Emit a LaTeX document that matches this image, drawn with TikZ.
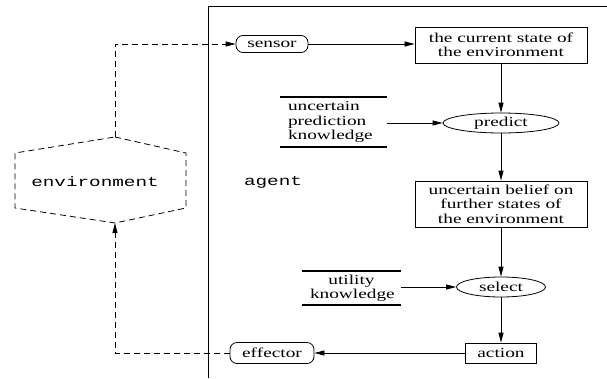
\documentclass[tikz,border=0pt]{standalone}
\usepackage{fontspec}
\setmainfont[FakeStretch=1.42]{Liberation Serif}
\setmonofont[FakeStretch=1.42]{Liberation Mono}
\usetikzlibrary{arrows.meta,shapes.geometric}
\begin{document}
\begin{tikzpicture}[x=1pt,y=-1pt,
  every node/.style={font=\fontsize{13.6}{14.4}\selectfont, inner sep=0pt},
  thin line/.style={line width=0.8pt},
  arr/.style={thin line,-{Triangle[length=10pt,width=5pt]}},
  darr/.style={arr,dash pattern=on 6pt off 4pt},
  dline/.style={thin line,dash pattern=on 6pt off 4pt},
  rbox/.style={draw,thin line,rectangle},
  rnd/.style={draw,thin line,rectangle,rounded corners=7pt},
  ell/.style={draw,thin line,ellipse},
  knowbox/.style={rectangle,inner xsep=8pt,inner ysep=0pt}]
\useasboundingbox (0,0) rectangle (607,378);

% agent frame
\draw[thin line] (208,378) -- (208,6) -- (607,6);

% environment hexagon
\draw[dline] (115,137) -- (186,153) -- (186,208) -- (115,223) -- (15,208) -- (15,153) -- cycle;
\coordinate (envtop) at (115,137);
\coordinate (envbot) at (115,223);
\node[font=\fontsize{13.6}{14.4}\ttfamily] (envtext) at (95,182) {environment};
\node[font=\fontsize{13.6}{14.4}\ttfamily] (agenttext) at (273,182) {agent};

% nodes
\node[rnd,minimum width=72pt,minimum height=17pt] (sensor) at (272,44) {sensor};
\node[rbox,minimum width=172pt,minimum height=36pt,align=center] (cur) at (501,45) {the current state of\\the environment};
\node[knowbox,text width=91pt,align=left,minimum height=50pt] (pk) at (333.5,122) {uncertain\\prediction\\knowledge};
\draw[line width=1.6pt] (pk.north west) -- (pk.north east);
\draw[line width=1.6pt] (pk.south west) -- (pk.south east);
\node[ell,minimum width=116pt,minimum height=20pt] (predict) at (501,123) {predict};
\node[rbox,minimum width=172pt,minimum height=46pt,align=center] (belief) at (501,204) {uncertain belief on\\further states of\\the environment};
\node[knowbox,text width=83pt,align=center,minimum height=34pt] (uk) at (351.5,288) {utility\\knowledge};
\draw[line width=1.6pt] (uk.north west) -- (uk.north east);
\draw[line width=1.6pt] (uk.south west) -- (uk.south east);
\node[ell,minimum width=89pt,minimum height=20pt] (select) at (501,287) {select};
\node[rbox,minimum width=71pt,minimum height=20pt] (action) at (501,353) {action};
\node[rnd,minimum width=84pt,minimum height=21pt] (effector) at (272,353) {effector};

% connectors
\coordinate (c1) at (115,44);
\coordinate (c2) at (115,353);
\draw[darr] (envtop) -- (c1) -- (sensor.west);
\draw[arr] (sensor.east) -- (cur.west |- sensor.east);
\draw[arr] (cur.south) -- (predict.north);
\draw[arr] (pk.east |- predict.west) -- (predict.west);
\draw[arr] (predict.south) -- (belief.north);
\draw[arr] (belief.south) -- (select.north);
\draw[arr] (uk.east |- select.west) -- (select.west);
\draw[arr] (select.south) -- (action.north);
\draw[arr] (action.west) -- (effector.east);
\draw[darr] (effector.west) -- (c2) -- (envbot);
\end{tikzpicture}
\end{document}
